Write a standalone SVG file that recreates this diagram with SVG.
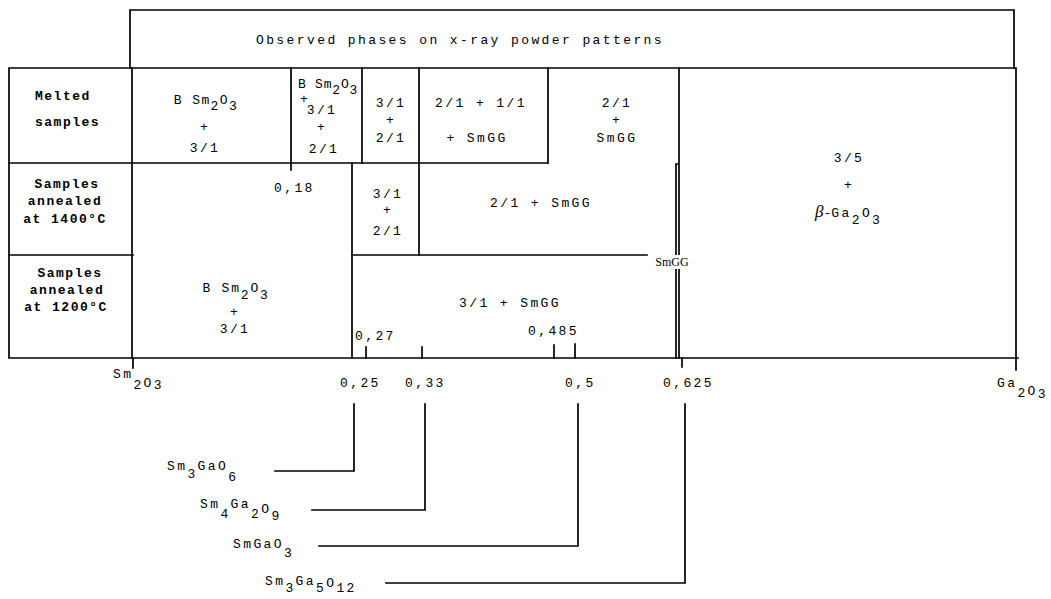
<svg xmlns="http://www.w3.org/2000/svg" width="1051" height="599" viewBox="0 0 1051 599">
<style>
.t{font-family:"Liberation Mono",monospace;font-size:13px;letter-spacing:2.4px;fill:#000}
.c{text-anchor:middle}
.b{font-weight:bold;letter-spacing:1.5px}
.s{font-family:"Liberation Serif",serif;font-size:12px;fill:#000}
.ln{stroke:#000;stroke-width:1.7;fill:none;stroke-linecap:square}
</style>
<rect width="1051" height="599" fill="#fff"/>

<g id="frame">
<path class="ln" d="M130 68V10H1014V68"/>
<path class="ln" d="M9 68H1016V370M9 68V358H1018"/>
<path class="ln" d="M9 163H548M9 255H133M352 255H647"/>
<path class="ln" d="M132 68V358M291 68V170M362 68V163M419 68V255M548 68V163M352 163V358M679 68V358M676 358V164H679"/>
<path class="ln" d="M133 358V368M366 347V358M422 347V358M554 345V358M575 344V358M682 358V367"/>
</g>

<g id="header"><text class="t c" x="460" y="44">Observed phases on x-ray powder patterns</text></g>

<g id="row-melted"><text class="t b" x="35" y="100">Melted</text><text class="t b" x="35" y="126">samples</text></g>
<g id="row-1400"><text class="t b c" x="67" y="188">Samples</text><text class="t b c" x="65" y="205">annealed</text><text class="t b c" x="65" y="223">at 1400°C</text></g>
<g id="row-1200"><text class="t b c" x="70" y="277">Samples</text><text class="t b c" x="67" y="294">annealed</text><text class="t b c" x="66" y="311">at 1200°C</text></g>

<g id="cell-m1">
<text class="t c" x="206" y="104" style="letter-spacing:1.4px">B Sm<tspan dy="6">2</tspan><tspan dy="-6">O</tspan><tspan dy="6">3</tspan></text>
<text class="t c" x="205" y="131">+</text><text class="t c" x="205" y="152">3/1</text>
</g>
<g id="cell-m2">
<text class="t c" x="328" y="88" style="letter-spacing:0.8px">B Sm<tspan dy="6">2</tspan><tspan dy="-6">O</tspan><tspan dy="6">3</tspan></text>
<text class="t c" x="305" y="103">+</text><text class="t c" x="322" y="114">3/1</text>
<text class="t c" x="322" y="131">+</text><text class="t c" x="324" y="153">2/1</text>
</g>
<g id="cell-m3"><text class="t c" x="391" y="107">3/1</text><text class="t c" x="391" y="124">+</text><text class="t c" x="391" y="142">2/1</text></g>
<g id="cell-m4"><text class="t c" x="481" y="107">2/1 + 1/1</text><text class="t c" x="477" y="142">+ SmGG</text></g>
<g id="cell-m5"><text class="t c" x="617" y="107">2/1</text><text class="t c" x="617" y="124">+</text><text class="t c" x="617" y="142">SmGG</text></g>

<g id="cell-right">
<text class="t c" x="849" y="162">3/5</text><text class="t c" x="849" y="189">+</text>
<text class="t" x="815" y="217"><tspan style="font-family:'Liberation Serif',serif;font-style:italic;font-size:17px;letter-spacing:0">β</tspan><tspan style="letter-spacing:0">-</tspan>Ga<tspan dy="7">2</tspan><tspan dy="-7">O</tspan><tspan dy="7">3</tspan></text>
</g>

<g id="cell-1400a"><text class="t" x="274" y="192">0,18</text></g>
<g id="cell-1400b"><text class="t c" x="388" y="198">3/1</text><text class="t c" x="388" y="214">+</text><text class="t c" x="388" y="235">2/1</text></g>
<g id="cell-1400c"><text class="t c" x="541" y="207">2/1 + SmGG</text></g>

<g id="smgg-strip">
<rect x="654" y="255" width="37" height="14" fill="#fff"/>
<text class="s c" x="672" y="266">SmGG</text>
</g>

<g id="cell-1200a">
<text class="t c" x="236" y="292" style="letter-spacing:1.8px">B Sm<tspan dy="7">2</tspan><tspan dy="-7">O</tspan><tspan dy="7">3</tspan></text>
<text class="t c" x="235" y="316">+</text><text class="t c" x="235" y="333">3/1</text>
</g>
<g id="cell-1200b"><text class="t c" x="510" y="307">3/1 + SmGG</text><text class="t" x="355" y="340">0,27</text><text class="t" x="528" y="335">0,485</text></g>

<g id="axis-labels">
<text class="t" x="113" y="378">Sm<tspan dy="11">2</tspan><tspan dy="-2">O</tspan><tspan dy="2">3</tspan></text>
<text class="t" x="340" y="387">0,25</text>
<text class="t" x="405" y="387">0,33</text>
<text class="t" x="565" y="387">0,5</text>
<text class="t" x="663" y="387">0,625</text>
<text class="t" x="997" y="387">Ga<tspan dy="10">2</tspan><tspan dy="-2">O</tspan><tspan dy="3">3</tspan></text>
</g>

<g id="connectors">
<path class="ln" d="M354 404V471H275"/>
<path class="ln" d="M425 404V510H312"/>
<path class="ln" d="M578 404V546H319"/>
<path class="ln" d="M685 404V583H386"/>
</g>

<g id="label-sm3gao6"><text class="t" x="167" y="470">Sm<tspan dy="8">3</tspan><tspan dy="-8">GaO</tspan><tspan dy="11">6</tspan></text></g>
<g id="label-sm4ga2o9"><text class="t" x="200" y="508">Sm<tspan dy="10">4</tspan><tspan dy="-10">Ga</tspan><tspan dy="10">2</tspan><tspan dy="-5">O</tspan><tspan dy="7">9</tspan></text></g>
<g id="label-smgao3"><text class="t" x="233" y="548">SmGaO<tspan dy="9">3</tspan></text></g>
<g id="label-sm3ga5o12"><text class="t" x="265" y="585">Sm<tspan dy="7">3</tspan><tspan dy="-7">Ga</tspan><tspan dy="7">5</tspan><tspan dy="-5">O</tspan><tspan dy="5">12</tspan></text></g>
</svg>
